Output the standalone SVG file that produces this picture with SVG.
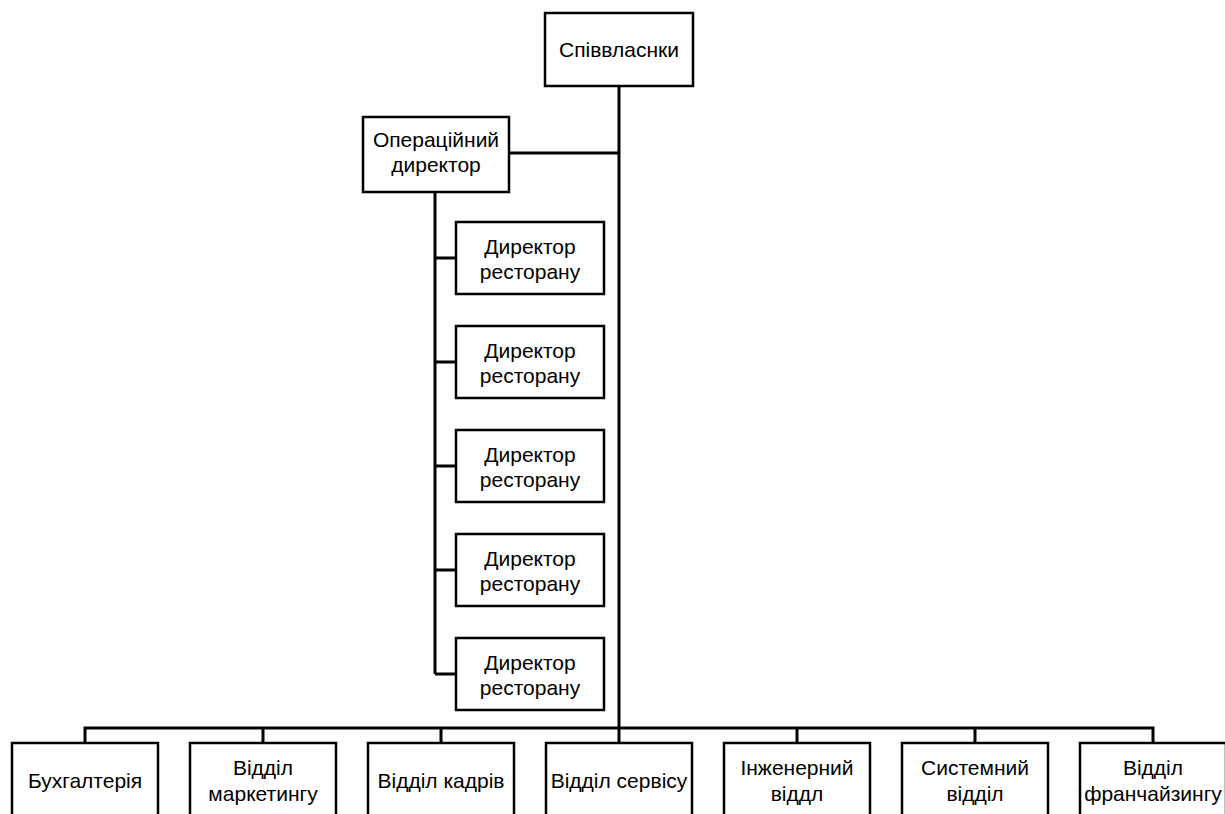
<svg xmlns="http://www.w3.org/2000/svg" width="1225" height="814" viewBox="0 0 1225 814">
<style>
.box{fill:#fff;stroke:#000;stroke-width:2.5}
.ln{fill:none;stroke:#000;stroke-width:3}
text{font-family:"Liberation Sans",Arial,sans-serif;font-size:21px;fill:#000;text-anchor:middle}
</style>
<rect width="1225" height="814" fill="#fff"/>
<g id="connectors">
<path class="ln" d="M619,86 V728"/>
<path class="ln" d="M509,153 H619"/>
<path class="ln" d="M435,192 V674"/>
<path class="ln" d="M435,258 H456 M435,362 H456 M435,466 H456 M435,570 H456 M435,674 H456"/>
<path class="ln" d="M85,743 V728 H1153 V743 M263,728 V743 M441,728 V743 M797,728 V743 M975,728 V743 M619,728 V743"/>
</g>
<g id="n-owners"><rect class="box" x="545" y="13" width="148" height="73"/><text x="619" y="57">Співвласнки</text></g>
<g id="n-coo"><rect class="box" x="363" y="117" width="146" height="75"/><text x="436" y="147">Операційний</text><text x="436" y="172">директор</text></g>
<g id="n-rd1"><rect class="box" x="456" y="222" width="148" height="72"/><text x="530" y="254">Директор</text><text x="530" y="279">ресторану</text></g>
<g id="n-rd2"><rect class="box" x="456" y="326" width="148" height="72"/><text x="530" y="358">Директор</text><text x="530" y="383">ресторану</text></g>
<g id="n-rd3"><rect class="box" x="456" y="430" width="148" height="72"/><text x="530" y="462">Директор</text><text x="530" y="487">ресторану</text></g>
<g id="n-rd4"><rect class="box" x="456" y="534" width="148" height="72"/><text x="530" y="566">Директор</text><text x="530" y="591">ресторану</text></g>
<g id="n-rd5"><rect class="box" x="456" y="638" width="148" height="72"/><text x="530" y="670">Директор</text><text x="530" y="695">ресторану</text></g>
<g id="n-acc"><rect class="box" x="12" y="743" width="146" height="95"/><text x="85" y="788">Бухгалтерія</text></g>
<g id="n-mkt"><rect class="box" x="190" y="743" width="146" height="95"/><text x="263" y="775">Відділ</text><text x="263" y="801">маркетингу</text></g>
<g id="n-hr"><rect class="box" x="368" y="743" width="146" height="95"/><text x="441" y="788">Відділ кадрів</text></g>
<g id="n-svc"><rect class="box" x="546" y="743" width="146" height="95"/><text x="619" y="788">Відділ сервісу</text></g>
<g id="n-eng"><rect class="box" x="724" y="743" width="146" height="95"/><text x="797" y="775">Інженерний</text><text x="797" y="801">віддл</text></g>
<g id="n-sys"><rect class="box" x="902" y="743" width="146" height="95"/><text x="975" y="775">Системний</text><text x="975" y="801">відділ</text></g>
<g id="n-fr"><rect class="box" x="1080" y="743" width="146" height="95"/><text x="1153" y="775">Відділ</text><text x="1153" y="801">франчайзингу</text></g>
</svg>
